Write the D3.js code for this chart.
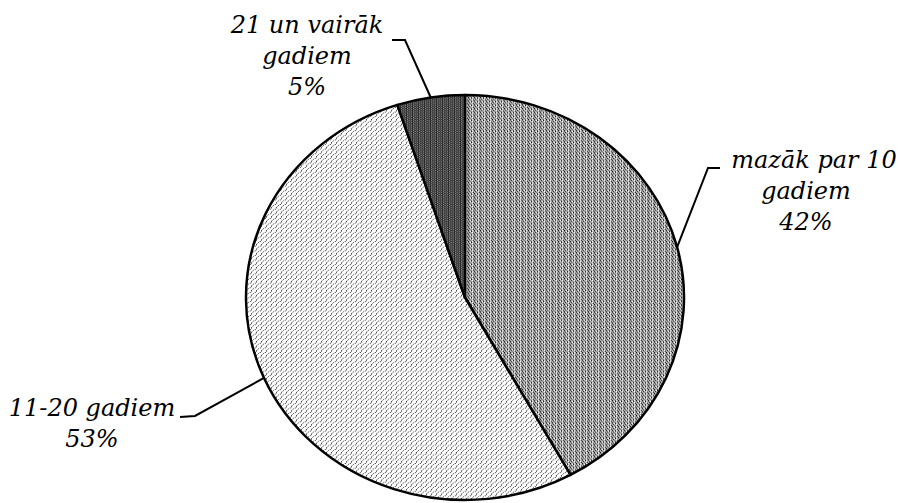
<!DOCTYPE html>
<html>
<head>
<meta charset="utf-8">
<script src="https://cdn.jsdelivr.net/npm/d3@7"></script>
<style>
  body { margin: 0; background: #fff; }
  svg text { font-family: "DejaVu Serif", serif; font-style: italic; font-size: 24px; fill: #000; }
</style>
</head>
<body>
<div id="chart"></div>
<script>
// chart data
var categories = ["mazāk par 10 gadiem", "11-20 gadiem", "21 un vairāk gadiem"];
var values = [42, 53, 5];
var labelLines = [["mazāk par 10", "gadiem", "42%"], ["11-20 gadiem", "53%"], ["21 un vairāk", "gadiem", "5%"]];

var width = 900, height = 503;
var cx = 465, cy = 297.5, rx = 219, ry = 202.5;

var svg = d3.select("#chart").append("svg")
    .attr("width", width).attr("height", height);

var defs = svg.append("defs");

// confetti-ish grey for first slice
var p0 = defs.append("pattern").attr("id", "pat0")
    .attr("patternUnits", "userSpaceOnUse").attr("width", 6).attr("height", 4);
p0.append("rect").attr("width", 6).attr("height", 4).attr("fill", "#b4b4b4");
[[0,0,"#111"],[3,0,"#666"],[1,1,"#fff"],[4,1,"#222"],[2,2,"#333"],[5,2,"#777"],[0,3,"#555"],[3,3,"#111"],[1,3,"#eee"],[5,0,"#fff"],[2,1,"#888"]].forEach(function (d) {
    p0.append("rect").attr("x", d[0]).attr("y", d[1]).attr("width", 1).attr("height", 1).attr("fill", d[2]);
});

// light diagonal zigzag for second slice
var p1 = defs.append("pattern").attr("id", "pat1")
    .attr("patternUnits", "userSpaceOnUse").attr("width", 5).attr("height", 5);
p1.append("rect").attr("width", 5).attr("height", 5).attr("fill", "#fff");
[[0,4,"#555"],[1,3,"#888"],[1,2,"#444"],[2,1,"#999"],[3,0,"#666"],[4,4,"#ccc"]].forEach(function (d) {
    p1.append("rect").attr("x", d[0]).attr("y", d[1]).attr("width", 1).attr("height", 1).attr("fill", d[2]);
});

// dark vertical stripes for third slice
var p2 = defs.append("pattern").attr("id", "pat2")
    .attr("patternUnits", "userSpaceOnUse").attr("width", 6).attr("height", 2);
p2.append("rect").attr("width", 6).attr("height", 2).attr("fill", "#333");
[[0,0,"#888"],[2,1,"#999"],[4,0,"#777"],[1,1,"#222"],[3,0,"#555"],[5,1,"#555"]].forEach(function (d) {
    p2.append("rect").attr("x", d[0]).attr("y", d[1]).attr("width", 1).attr("height", 1).attr("fill", d[2]);
});

var pie = d3.pie().sort(null).value(function (d) { return d; });
var arcs = pie(values);
var arc = d3.arc().innerRadius(0).outerRadius(rx);

var g = svg.append("g")
    .attr("transform", "translate(" + cx + "," + cy + ") scale(1," + (ry / rx) + ")");

g.selectAll("path.slice").data(arcs).enter().append("path")
    .attr("class", "slice")
    .attr("d", arc)
    .attr("fill", function (d, i) { return "url(#pat" + i + ")"; })
    .attr("stroke", "#000")
    .attr("stroke-width", 2.5)
    .attr("vector-effect", "non-scaling-stroke")
    .attr("stroke-linejoin", "round");

// label layout: text center x, first baseline, first-line shift, elbow point, line end
var labelPos = [
    { x: 806, y: 168, dx0: 8, elbow: [708, 168], end: [720, 168] },
    { x: 92, y: 416, dx0: 0, elbow: [195, 416], end: [180, 417] },
    { x: 307, y: 33, dx0: 0, elbow: [405, 40], end: [392, 40] }
];
var lineH = 31;

arcs.forEach(function (a, i) {
    var mid = (a.startAngle + a.endAngle) / 2;
    var px = cx + rx * Math.sin(mid), py = cy - ry * Math.cos(mid);
    var lp = labelPos[i];
    svg.append("polyline")
        .attr("points", [[px, py], lp.elbow, lp.end].map(function (p) { return p.join(","); }).join(" "))
        .attr("fill", "none").attr("stroke", "#000").attr("stroke-width", 2);
    var t = svg.append("text").attr("text-anchor", "middle");
    labelLines[i].forEach(function (s, k) {
        t.append("tspan").attr("x", lp.x + (k === 0 ? lp.dx0 : 0)).attr("y", lp.y + k * lineH).text(s);
    });
});
</script>
</body>
</html>
